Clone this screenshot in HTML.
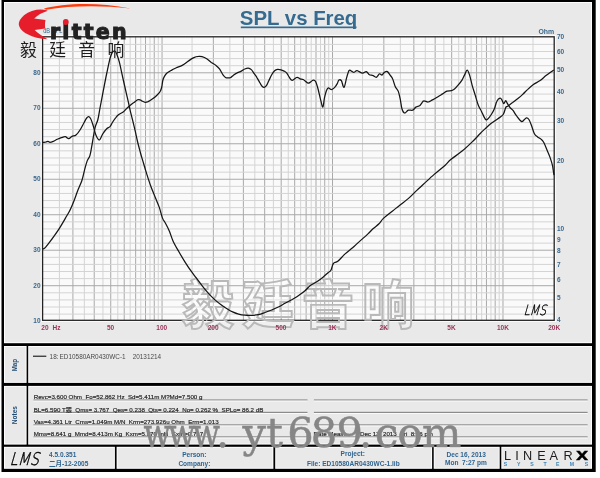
<!DOCTYPE html><html><head><meta charset="utf-8"><style>html,body{margin:0;padding:0;background:#fff;width:600px;height:478px;overflow:hidden}svg{display:block}text{font-family:"Liberation Sans",sans-serif}</style></head><body>
<svg width="600" height="478" viewBox="0 0 600 478">
<rect x="0" y="0" width="600" height="478" fill="#fff"/>
<rect x="1.5" y="-1" width="594.2" height="473.0" fill="#000"/>
<rect x="4" y="2" width="588.00" height="341.20" fill="#fdfdfd"/>
<rect x="5" y="3" width="586.00" height="339.20" fill="#e9e9e9"/>
<rect x="4" y="346.0" width="22.60" height="36.90" fill="#fdfdfd"/>
<rect x="5" y="347.0" width="20.60" height="34.90" fill="#e9e9e9"/>
<rect x="28.2" y="346.0" width="563.80" height="36.90" fill="#fdfdfd"/>
<rect x="29.2" y="347.0" width="561.80" height="34.90" fill="#e9e9e9"/>
<rect x="4" y="385.9" width="22.60" height="58.70" fill="#fdfdfd"/>
<rect x="5" y="386.9" width="20.60" height="56.70" fill="#e9e9e9"/>
<rect x="28.2" y="385.9" width="563.80" height="58.70" fill="#fdfdfd"/>
<rect x="29.2" y="386.9" width="561.80" height="56.70" fill="#e9e9e9"/>
<rect x="4" y="446.8" width="110.90" height="22.00" fill="#fdfdfd"/>
<rect x="5" y="447.8" width="108.90" height="20.00" fill="#e9e9e9"/>
<rect x="116.6" y="446.8" width="156.80" height="22.00" fill="#fdfdfd"/>
<rect x="117.6" y="447.8" width="154.80" height="20.00" fill="#e9e9e9"/>
<rect x="275.2" y="446.8" width="156.90" height="22.00" fill="#fdfdfd"/>
<rect x="276.2" y="447.8" width="154.90" height="20.00" fill="#e9e9e9"/>
<rect x="433.7" y="446.8" width="66.00" height="22.00" fill="#fdfdfd"/>
<rect x="434.7" y="447.8" width="64.00" height="20.00" fill="#e9e9e9"/>
<rect x="501.3" y="446.8" width="90.70" height="22.00" fill="#fdfdfd"/>
<rect x="502.3" y="447.8" width="88.70" height="20.00" fill="#e9e9e9"/>
<rect x="40.7" y="34.9" width="515.40" height="287.10" fill="#fafafa"/>
<line x1="59.42" y1="36.8" x2="59.42" y2="320.3" stroke="#d4d4d4" stroke-width="1"/><line x1="72.92" y1="36.8" x2="72.92" y2="320.3" stroke="#a9a9a9" stroke-width="1"/><line x1="84.33" y1="36.8" x2="84.33" y2="320.3" stroke="#d4d4d4" stroke-width="1"/><line x1="94.22" y1="36.8" x2="94.22" y2="320.3" stroke="#a9a9a9" stroke-width="1"/><line x1="102.94" y1="36.8" x2="102.94" y2="320.3" stroke="#d4d4d4" stroke-width="1"/><line x1="110.74" y1="36.8" x2="110.74" y2="320.3" stroke="#a9a9a9" stroke-width="1"/><line x1="117.79" y1="36.8" x2="117.79" y2="320.3" stroke="#d4d4d4" stroke-width="1"/><line x1="124.23" y1="36.8" x2="124.23" y2="320.3" stroke="#a9a9a9" stroke-width="1"/><line x1="130.16" y1="36.8" x2="130.16" y2="320.3" stroke="#d4d4d4" stroke-width="1"/><line x1="135.65" y1="36.8" x2="135.65" y2="320.3" stroke="#a9a9a9" stroke-width="1"/><line x1="140.75" y1="36.8" x2="140.75" y2="320.3" stroke="#d4d4d4" stroke-width="1"/><line x1="145.53" y1="36.8" x2="145.53" y2="320.3" stroke="#a9a9a9" stroke-width="1"/><line x1="150.02" y1="36.8" x2="150.02" y2="320.3" stroke="#d4d4d4" stroke-width="1"/><line x1="154.25" y1="36.8" x2="154.25" y2="320.3" stroke="#a9a9a9" stroke-width="1"/><line x1="158.25" y1="36.8" x2="158.25" y2="320.3" stroke="#d4d4d4" stroke-width="1"/><line x1="162.05" y1="36.8" x2="162.05" y2="320.3" stroke="#a9a9a9" stroke-width="1"/><line x1="192.07" y1="36.8" x2="192.07" y2="320.3" stroke="#d4d4d4" stroke-width="1"/><line x1="213.37" y1="36.8" x2="213.37" y2="320.3" stroke="#a9a9a9" stroke-width="1"/><line x1="229.89" y1="36.8" x2="229.89" y2="320.3" stroke="#d4d4d4" stroke-width="1"/><line x1="243.38" y1="36.8" x2="243.38" y2="320.3" stroke="#a9a9a9" stroke-width="1"/><line x1="254.80" y1="36.8" x2="254.80" y2="320.3" stroke="#d4d4d4" stroke-width="1"/><line x1="264.68" y1="36.8" x2="264.68" y2="320.3" stroke="#a9a9a9" stroke-width="1"/><line x1="273.40" y1="36.8" x2="273.40" y2="320.3" stroke="#d4d4d4" stroke-width="1"/><line x1="281.20" y1="36.8" x2="281.20" y2="320.3" stroke="#a9a9a9" stroke-width="1"/><line x1="288.26" y1="36.8" x2="288.26" y2="320.3" stroke="#d4d4d4" stroke-width="1"/><line x1="294.70" y1="36.8" x2="294.70" y2="320.3" stroke="#a9a9a9" stroke-width="1"/><line x1="300.63" y1="36.8" x2="300.63" y2="320.3" stroke="#d4d4d4" stroke-width="1"/><line x1="306.11" y1="36.8" x2="306.11" y2="320.3" stroke="#a9a9a9" stroke-width="1"/><line x1="311.22" y1="36.8" x2="311.22" y2="320.3" stroke="#d4d4d4" stroke-width="1"/><line x1="316.00" y1="36.8" x2="316.00" y2="320.3" stroke="#a9a9a9" stroke-width="1"/><line x1="320.49" y1="36.8" x2="320.49" y2="320.3" stroke="#d4d4d4" stroke-width="1"/><line x1="324.72" y1="36.8" x2="324.72" y2="320.3" stroke="#a9a9a9" stroke-width="1"/><line x1="328.72" y1="36.8" x2="328.72" y2="320.3" stroke="#d4d4d4" stroke-width="1"/><line x1="332.52" y1="36.8" x2="332.52" y2="320.3" stroke="#a9a9a9" stroke-width="1"/><line x1="362.54" y1="36.8" x2="362.54" y2="320.3" stroke="#d4d4d4" stroke-width="1"/><line x1="383.83" y1="36.8" x2="383.83" y2="320.3" stroke="#a9a9a9" stroke-width="1"/><line x1="400.35" y1="36.8" x2="400.35" y2="320.3" stroke="#d4d4d4" stroke-width="1"/><line x1="413.85" y1="36.8" x2="413.85" y2="320.3" stroke="#a9a9a9" stroke-width="1"/><line x1="425.26" y1="36.8" x2="425.26" y2="320.3" stroke="#d4d4d4" stroke-width="1"/><line x1="435.15" y1="36.8" x2="435.15" y2="320.3" stroke="#a9a9a9" stroke-width="1"/><line x1="443.87" y1="36.8" x2="443.87" y2="320.3" stroke="#d4d4d4" stroke-width="1"/><line x1="451.67" y1="36.8" x2="451.67" y2="320.3" stroke="#a9a9a9" stroke-width="1"/><line x1="458.72" y1="36.8" x2="458.72" y2="320.3" stroke="#d4d4d4" stroke-width="1"/><line x1="465.17" y1="36.8" x2="465.17" y2="320.3" stroke="#a9a9a9" stroke-width="1"/><line x1="471.09" y1="36.8" x2="471.09" y2="320.3" stroke="#d4d4d4" stroke-width="1"/><line x1="476.58" y1="36.8" x2="476.58" y2="320.3" stroke="#a9a9a9" stroke-width="1"/><line x1="481.69" y1="36.8" x2="481.69" y2="320.3" stroke="#d4d4d4" stroke-width="1"/><line x1="486.46" y1="36.8" x2="486.46" y2="320.3" stroke="#a9a9a9" stroke-width="1"/><line x1="490.95" y1="36.8" x2="490.95" y2="320.3" stroke="#d4d4d4" stroke-width="1"/><line x1="495.18" y1="36.8" x2="495.18" y2="320.3" stroke="#a9a9a9" stroke-width="1"/><line x1="499.19" y1="36.8" x2="499.19" y2="320.3" stroke="#d4d4d4" stroke-width="1"/><line x1="502.98" y1="36.8" x2="502.98" y2="320.3" stroke="#a9a9a9" stroke-width="1"/><line x1="533.00" y1="36.8" x2="533.00" y2="320.3" stroke="#d4d4d4" stroke-width="1"/><line x1="42.6" y1="44.40" x2="554.2" y2="44.40" stroke="#d4d4d4" stroke-width="1"/><line x1="42.6" y1="51.49" x2="554.2" y2="51.49" stroke="#d4d4d4" stroke-width="1"/><line x1="42.6" y1="58.59" x2="554.2" y2="58.59" stroke="#d4d4d4" stroke-width="1"/><line x1="42.6" y1="65.69" x2="554.2" y2="65.69" stroke="#d4d4d4" stroke-width="1"/><line x1="42.6" y1="72.79" x2="554.2" y2="72.79" stroke="#a9a9a9" stroke-width="1"/><line x1="42.6" y1="79.88" x2="554.2" y2="79.88" stroke="#d4d4d4" stroke-width="1"/><line x1="42.6" y1="86.98" x2="554.2" y2="86.98" stroke="#d4d4d4" stroke-width="1"/><line x1="42.6" y1="94.08" x2="554.2" y2="94.08" stroke="#d4d4d4" stroke-width="1"/><line x1="42.6" y1="101.18" x2="554.2" y2="101.18" stroke="#d4d4d4" stroke-width="1"/><line x1="42.6" y1="108.27" x2="554.2" y2="108.27" stroke="#a9a9a9" stroke-width="1"/><line x1="42.6" y1="115.37" x2="554.2" y2="115.37" stroke="#d4d4d4" stroke-width="1"/><line x1="42.6" y1="122.47" x2="554.2" y2="122.47" stroke="#d4d4d4" stroke-width="1"/><line x1="42.6" y1="129.57" x2="554.2" y2="129.57" stroke="#d4d4d4" stroke-width="1"/><line x1="42.6" y1="136.66" x2="554.2" y2="136.66" stroke="#d4d4d4" stroke-width="1"/><line x1="42.6" y1="143.76" x2="554.2" y2="143.76" stroke="#a9a9a9" stroke-width="1"/><line x1="42.6" y1="150.86" x2="554.2" y2="150.86" stroke="#d4d4d4" stroke-width="1"/><line x1="42.6" y1="157.96" x2="554.2" y2="157.96" stroke="#d4d4d4" stroke-width="1"/><line x1="42.6" y1="165.06" x2="554.2" y2="165.06" stroke="#d4d4d4" stroke-width="1"/><line x1="42.6" y1="172.15" x2="554.2" y2="172.15" stroke="#d4d4d4" stroke-width="1"/><line x1="42.6" y1="179.25" x2="554.2" y2="179.25" stroke="#a9a9a9" stroke-width="1"/><line x1="42.6" y1="186.35" x2="554.2" y2="186.35" stroke="#d4d4d4" stroke-width="1"/><line x1="42.6" y1="193.44" x2="554.2" y2="193.44" stroke="#d4d4d4" stroke-width="1"/><line x1="42.6" y1="200.54" x2="554.2" y2="200.54" stroke="#d4d4d4" stroke-width="1"/><line x1="42.6" y1="207.64" x2="554.2" y2="207.64" stroke="#d4d4d4" stroke-width="1"/><line x1="42.6" y1="214.74" x2="554.2" y2="214.74" stroke="#a9a9a9" stroke-width="1"/><line x1="42.6" y1="221.83" x2="554.2" y2="221.83" stroke="#d4d4d4" stroke-width="1"/><line x1="42.6" y1="228.93" x2="554.2" y2="228.93" stroke="#d4d4d4" stroke-width="1"/><line x1="42.6" y1="236.03" x2="554.2" y2="236.03" stroke="#d4d4d4" stroke-width="1"/><line x1="42.6" y1="243.13" x2="554.2" y2="243.13" stroke="#d4d4d4" stroke-width="1"/><line x1="42.6" y1="250.23" x2="554.2" y2="250.23" stroke="#a9a9a9" stroke-width="1"/><line x1="42.6" y1="257.32" x2="554.2" y2="257.32" stroke="#d4d4d4" stroke-width="1"/><line x1="42.6" y1="264.42" x2="554.2" y2="264.42" stroke="#d4d4d4" stroke-width="1"/><line x1="42.6" y1="271.52" x2="554.2" y2="271.52" stroke="#d4d4d4" stroke-width="1"/><line x1="42.6" y1="278.61" x2="554.2" y2="278.61" stroke="#d4d4d4" stroke-width="1"/><line x1="42.6" y1="285.71" x2="554.2" y2="285.71" stroke="#a9a9a9" stroke-width="1"/><line x1="42.6" y1="292.81" x2="554.2" y2="292.81" stroke="#d4d4d4" stroke-width="1"/><line x1="42.6" y1="299.91" x2="554.2" y2="299.91" stroke="#d4d4d4" stroke-width="1"/><line x1="42.6" y1="307.00" x2="554.2" y2="307.00" stroke="#d4d4d4" stroke-width="1"/><line x1="42.6" y1="314.10" x2="554.2" y2="314.10" stroke="#d4d4d4" stroke-width="1"/>
<rect x="42.6" y="36.8" width="511.60" height="283.50" fill="none" stroke="#222" stroke-width="1.3"/>
<text x="182" y="324" font-size="52" font-weight="bold" fill="rgba(255,255,255,0.35)" stroke="#b9b9b9" stroke-width="1.9" letter-spacing="8" style="font-family:'Liberation Sans','Noto Sans CJK SC',sans-serif">毅廷音响</text>
<path d="M42.7,142.4 C43.2,142.3 45.1,142.2 46.0,142.0 C46.9,141.8 47.3,141.2 48.0,141.3 C48.7,141.4 49.1,142.3 50.0,142.3 C50.9,142.3 52.1,141.8 53.3,141.3 C54.5,140.8 56.0,139.9 57.3,139.3 C58.6,138.7 60.0,138.1 61.3,137.7 C62.6,137.3 64.1,136.5 65.3,136.7 C66.5,136.9 67.6,138.8 68.7,138.7 C69.8,138.6 70.8,137.0 72.0,136.4 C73.2,135.8 74.7,136.1 76.0,135.0 C77.3,133.9 78.7,132.1 80.0,130.0 C81.3,128.0 82.9,124.7 84.0,122.7 C85.1,120.7 85.9,119.0 86.7,118.0 C87.5,117.0 88.0,116.6 88.7,116.7 C89.4,116.8 89.9,117.2 90.7,118.7 C91.5,120.2 92.4,123.2 93.3,126.0 C94.2,128.8 95.0,133.0 96.0,135.3 C97.0,137.6 98.2,140.2 99.3,140.0 C100.4,139.8 101.5,135.9 102.7,134.0 C103.9,132.1 105.5,129.9 106.7,128.7 C107.9,127.5 109.0,127.8 110.0,126.7 C111.0,125.6 111.7,123.6 112.7,122.0 C113.7,120.4 115.0,118.5 116.0,117.3 C117.0,116.0 117.6,115.4 118.8,114.5 C120.0,113.6 122.0,112.9 123.2,112.0 C124.5,111.1 125.3,109.9 126.3,108.9 C127.3,107.9 128.2,107.1 129.4,106.1 C130.7,105.0 132.4,103.6 133.8,102.6 C135.2,101.5 136.6,100.3 137.6,99.8 C138.6,99.3 139.3,99.5 140.1,99.8 C140.9,100.0 141.8,100.9 142.6,101.3 C143.4,101.7 144.2,102.2 145.1,102.3 C146.0,102.3 146.9,102.2 148.2,101.6 C149.4,101.0 151.2,99.8 152.6,98.8 C154.0,97.8 155.2,96.9 156.4,95.7 C157.6,94.5 159.1,93.2 160.0,91.7 C160.9,90.2 161.3,89.0 161.8,87.0 C162.2,85.0 162.4,81.8 162.9,80.0 C163.4,78.2 164.0,77.1 164.7,75.9 C165.4,74.7 165.8,74.0 167.0,73.0 C168.2,72.0 170.1,71.0 171.7,70.1 C173.2,69.2 174.6,68.6 176.3,67.8 C178.1,67.0 180.2,66.5 182.2,65.4 C184.1,64.3 186.1,62.6 188.0,61.3 C189.9,60.0 192.1,58.4 193.8,57.6 C195.6,56.8 197.1,56.5 198.5,56.4 C199.9,56.2 200.6,56.3 202.0,56.7 C203.4,57.1 205.1,57.8 206.7,58.8 C208.2,59.8 209.8,61.4 211.3,62.5 C212.9,63.6 214.6,64.3 216.0,65.4 C217.4,66.5 218.3,67.3 219.5,68.9 C220.7,70.5 221.9,73.3 223.0,74.8 C224.1,76.3 225.1,77.2 225.9,77.7 C226.7,78.2 227.3,77.9 228.0,77.9 C228.7,77.9 229.4,78.2 230.3,77.8 C231.2,77.4 232.1,76.2 233.2,75.4 C234.3,74.6 235.3,73.8 236.7,73.1 C238.0,72.4 240.0,71.8 241.3,71.1 C242.7,70.4 243.6,69.5 244.8,69.0 C246.0,68.5 247.2,68.1 248.3,68.2 C249.4,68.3 250.3,68.7 251.3,69.6 C252.3,70.5 253.2,72.3 254.2,73.7 C255.2,75.1 256.1,76.2 257.1,77.8 C258.1,79.3 259.1,81.5 260.0,83.0 C260.9,84.5 261.6,85.8 262.3,86.5 C263.0,87.2 263.4,87.6 264.1,87.4 C264.8,87.2 265.6,86.7 266.4,85.6 C267.2,84.5 267.9,82.5 268.8,80.7 C269.7,78.9 270.7,76.5 271.7,74.8 C272.7,73.1 273.6,71.7 274.6,70.8 C275.6,69.9 276.4,69.6 277.5,69.4 C278.6,69.2 279.8,69.5 281.0,69.8 C282.2,70.1 283.5,70.8 284.5,71.3 C285.5,71.8 286.0,72.1 286.8,73.1 C287.6,74.1 288.3,76.0 289.2,77.2 C290.1,78.4 291.0,80.3 292.3,80.3 C293.6,80.3 295.6,77.5 296.9,77.3 C298.2,77.0 298.9,78.4 300.0,78.8 C301.1,79.2 301.9,78.8 303.2,79.5 C304.5,80.2 306.5,82.4 307.6,82.9 C308.8,83.4 309.2,82.9 310.1,82.4 C311.0,81.9 312.3,80.2 313.2,80.1 C314.1,80.0 314.9,80.1 315.7,81.7 C316.5,83.3 317.4,86.4 318.2,89.5 C319.0,92.6 319.9,97.3 320.7,100.2 C321.5,103.1 322.3,107.5 322.9,107.1 C323.5,106.7 323.9,100.4 324.5,97.7 C325.1,95.0 325.8,92.4 326.4,90.8 C327.0,89.2 327.5,88.1 328.3,87.9 C329.1,87.7 330.4,89.5 331.4,89.5 C332.4,89.5 333.6,88.5 334.5,87.6 C335.4,86.7 336.4,85.2 337.1,83.9 C337.8,82.7 338.2,80.6 338.9,80.1 C339.6,79.6 340.5,79.5 341.4,80.7 C342.2,81.9 343.1,87.8 344.0,87.4 C344.9,87.0 345.7,81.0 346.5,78.2 C347.3,75.4 348.2,71.9 349.0,70.7 C349.8,69.5 350.7,70.8 351.5,71.1 C352.3,71.4 353.1,72.4 354.0,72.3 C354.9,72.2 355.7,70.5 357.1,70.7 C358.5,70.9 361.0,73.1 362.5,73.2 C364.0,73.3 365.2,71.3 366.3,71.6 C367.4,71.9 368.3,74.2 369.4,74.8 C370.4,75.4 371.5,74.9 372.6,75.3 C373.8,75.7 375.2,77.5 376.3,77.3 C377.4,77.0 378.6,74.2 379.5,73.8 C380.4,73.4 381.2,75.3 382.0,75.1 C382.8,74.8 383.6,72.9 384.5,72.3 C385.4,71.7 386.5,71.1 387.4,71.6 C388.3,72.1 389.2,73.9 390.1,75.1 C391.0,76.3 391.8,76.9 392.6,78.8 C393.5,80.7 394.2,84.3 395.2,86.4 C396.1,88.5 397.5,89.3 398.3,91.4 C399.1,93.5 399.6,96.0 400.2,98.9 C400.8,101.8 401.3,106.7 402.0,109.0 C402.7,111.3 403.6,112.8 404.6,113.0 C405.7,113.2 407.0,110.7 408.3,110.2 C409.6,109.7 411.4,110.7 412.7,110.2 C414.0,109.7 414.8,107.8 415.9,107.1 C417.0,106.4 418.7,106.4 419.6,105.8 C420.5,105.2 420.8,104.3 421.5,103.5 C422.2,102.7 422.7,101.0 423.8,100.8 C424.9,100.5 426.8,102.2 428.2,102.0 C429.6,101.8 430.9,100.7 432.5,99.9 C434.1,99.1 435.9,98.0 437.6,97.0 C439.3,96.0 441.0,94.9 442.6,93.9 C444.2,92.9 445.5,91.6 447.0,91.1 C448.5,90.6 450.1,91.0 451.4,90.7 C452.6,90.4 453.5,89.9 454.5,89.1 C455.5,88.3 456.4,87.2 457.6,85.7 C458.9,84.2 460.9,81.9 462.0,80.1 C463.1,78.3 463.6,76.8 464.5,75.1 C465.4,73.4 466.2,70.0 467.1,70.0 C468.0,70.0 468.8,72.6 469.6,75.1 C470.4,77.6 471.2,81.8 472.1,85.1 C473.0,88.4 474.2,91.8 475.2,95.1 C476.2,98.4 477.2,102.5 478.3,105.2 C479.4,107.9 480.4,109.1 481.5,111.4 C482.6,113.7 484.1,117.7 485.2,119.0 C486.2,120.3 486.8,119.8 487.8,119.0 C488.8,118.2 490.2,116.2 491.3,114.5 C492.4,112.8 493.5,111.0 494.4,108.8 C495.3,106.6 495.9,103.1 496.9,101.3 C497.8,99.5 499.2,98.4 500.1,98.2 C501.0,98.0 501.4,99.2 502.0,100.1 C502.6,101.0 503.2,103.5 503.8,103.6 C504.4,103.7 505.1,100.7 505.7,100.7 C506.3,100.7 506.9,102.7 507.6,103.8 C508.3,104.9 509.2,106.4 510.1,107.6 C511.0,108.8 512.2,109.3 513.2,110.7 C514.2,112.1 515.0,113.9 516.4,115.7 C517.8,117.5 520.1,120.7 521.4,121.4 C522.6,122.1 523.1,120.7 523.9,120.1 C524.7,119.5 525.6,118.0 526.4,117.9 C527.2,117.8 528.1,118.3 528.9,119.5 C529.7,120.7 530.5,122.8 531.4,125.2 C532.3,127.6 533.4,131.9 534.4,133.8 C535.4,135.8 536.5,136.0 537.6,136.9 C538.8,137.8 540.3,138.5 541.3,139.4 C542.3,140.3 542.8,140.7 543.8,142.5 C544.8,144.3 546.0,147.6 547.0,150.1 C548.0,152.6 549.2,155.1 550.1,157.6 C551.0,160.1 551.8,162.6 552.4,165.1 C553.0,167.6 553.3,171.0 553.6,172.7 C553.9,174.4 554.0,174.8 554.1,175.2" fill="none" stroke="#151515" stroke-width="1.25" stroke-linejoin="round"/>
<path d="M42.9,249.0 C43.4,248.7 44.3,248.7 45.7,247.1 C47.1,245.5 49.4,242.6 51.5,239.7 C53.6,236.8 56.1,233.4 58.4,229.9 C60.7,226.4 63.5,221.5 65.3,218.4 C67.1,215.3 68.1,213.7 69.3,211.5 C70.5,209.3 71.3,207.2 72.2,205.2 C73.1,203.2 73.6,201.8 74.5,199.5 C75.4,197.2 76.3,194.4 77.5,191.2 C78.7,188.0 80.7,184.1 81.9,180.5 C83.1,176.9 83.7,173.1 84.6,169.8 C85.5,166.5 86.3,163.3 87.2,160.9 C88.1,158.5 89.2,158.0 89.9,155.6 C90.7,153.2 91.1,150.0 91.7,146.7 C92.3,143.4 92.9,139.3 93.5,136.0 C94.1,132.7 94.5,129.8 95.2,127.1 C95.9,124.3 97.1,122.7 97.9,119.5 C98.7,116.3 99.1,112.9 100.0,108.0 C100.9,103.1 102.3,96.0 103.4,90.2 C104.5,84.5 105.7,78.2 106.7,73.5 C107.7,68.8 108.4,65.1 109.2,61.8 C110.0,58.4 110.9,55.2 111.8,53.4 C112.7,51.6 114.0,50.9 114.8,51.0 C115.6,51.1 116.0,52.4 116.8,54.2 C117.5,56.0 118.3,58.0 119.3,61.8 C120.3,65.6 121.5,71.8 122.6,76.8 C123.7,81.8 125.1,87.8 126.0,91.9 C126.9,96.0 127.5,98.3 128.2,101.3 C128.9,104.3 129.4,106.9 130.1,110.1 C130.8,113.2 131.8,116.9 132.6,120.2 C133.4,123.5 134.2,126.7 135.0,130.2 C135.8,133.7 136.5,137.2 137.4,141.0 C138.3,144.8 139.5,149.2 140.5,153.0 C141.5,156.8 142.6,160.0 143.6,163.5 C144.6,167.0 145.5,170.1 146.7,173.9 C147.9,177.7 149.5,182.7 150.9,186.5 C152.3,190.3 153.7,193.5 155.1,197.0 C156.5,200.5 158.1,203.9 159.3,207.4 C160.5,210.9 161.4,215.2 162.4,217.9 C163.4,220.6 164.4,221.3 165.6,223.5 C166.8,225.7 168.1,228.1 169.3,231.0 C170.5,233.9 171.4,237.4 173.0,240.9 C174.6,244.4 176.9,248.3 178.9,251.8 C180.9,255.3 182.9,258.7 184.9,261.8 C186.9,264.9 188.8,267.9 190.8,270.7 C192.8,273.5 194.8,276.0 196.8,278.7 C198.8,281.4 200.8,284.1 202.8,286.6 C204.8,289.1 206.7,291.4 208.7,293.6 C210.7,295.8 212.7,297.8 214.7,299.6 C216.7,301.4 218.7,303.0 220.7,304.5 C222.7,306.0 224.6,307.3 226.6,308.5 C228.6,309.7 230.6,311.0 232.6,311.9 C234.6,312.8 236.5,313.6 238.6,314.1 C240.7,314.7 242.8,315.0 245.0,315.2 C247.2,315.4 249.5,315.4 251.7,315.3 C253.9,315.2 256.1,315.2 258.3,314.7 C260.5,314.2 262.8,313.3 265.0,312.5 C267.2,311.7 269.5,310.9 271.7,310.0 C273.9,309.1 276.1,308.1 278.3,307.0 C280.5,305.9 282.8,304.5 285.0,303.3 C287.2,302.1 289.5,300.9 291.7,299.7 C293.9,298.4 296.1,297.3 298.3,295.8 C300.5,294.3 303.1,292.5 305.0,290.8 C306.9,289.1 308.6,287.0 310.0,285.8 C311.4,284.6 311.9,284.5 313.3,283.7 C314.7,282.9 316.6,281.9 318.3,280.8 C320.0,279.7 321.6,278.4 323.3,277.0 C325.0,275.6 327.0,273.6 328.3,272.5 C329.6,271.4 330.0,271.7 330.9,270.2 C331.8,268.7 332.2,265.0 333.4,263.5 C334.5,262.0 335.9,262.9 337.8,261.3 C339.8,259.7 342.6,256.1 345.1,253.9 C347.6,251.7 350.4,249.7 352.6,247.8 C354.8,245.9 355.7,244.9 358.2,242.6 C360.7,240.3 365.2,236.4 367.7,234.1 C370.2,231.8 371.4,230.2 373.3,228.5 C375.2,226.8 377.3,225.5 379.0,223.8 C380.7,222.1 381.1,220.6 383.4,218.4 C385.7,216.2 389.8,213.1 392.6,210.9 C395.4,208.7 397.5,207.1 400.1,205.0 C402.8,202.9 405.7,200.8 408.5,198.4 C411.3,196.0 414.4,192.6 416.8,190.4 C419.2,188.2 419.8,187.6 422.6,185.0 C425.5,182.4 430.1,177.9 433.9,174.6 C437.7,171.3 442.4,167.7 445.2,165.2 C448.0,162.7 448.0,161.8 450.8,159.5 C453.6,157.2 458.3,154.2 462.1,151.1 C465.9,148.0 470.4,143.6 473.4,140.7 C476.4,137.8 478.1,135.7 480.0,133.7 C481.9,131.7 483.1,130.6 485.0,128.9 C486.9,127.2 489.2,125.0 491.3,123.3 C493.4,121.6 495.6,120.4 497.6,118.9 C499.6,117.4 501.9,116.4 503.2,114.5 C504.5,112.6 505.0,109.0 505.7,107.6 C506.4,106.2 506.5,107.1 507.6,106.3 C508.8,105.5 510.9,103.8 512.6,102.6 C514.3,101.3 515.9,100.2 517.6,98.8 C519.3,97.4 521.1,95.9 522.7,94.4 C524.4,92.9 525.7,91.2 527.5,89.6 C529.3,87.9 531.4,86.0 533.4,84.5 C535.4,83.0 537.6,82.3 539.7,80.8 C541.8,79.3 544.2,77.0 546.0,75.6 C547.8,74.2 548.9,73.5 550.2,72.5 C551.5,71.5 553.2,70.3 553.8,69.9" fill="none" stroke="#151515" stroke-width="1.25" stroke-linejoin="round"/>
<text x="40.6" y="323.0" font-size="6.5" font-weight="bold" fill="#3a678b" text-anchor="end">10</text><text x="40.6" y="287.6" font-size="6.5" font-weight="bold" fill="#3a678b" text-anchor="end">20</text><text x="40.6" y="252.1" font-size="6.5" font-weight="bold" fill="#3a678b" text-anchor="end">30</text><text x="40.6" y="216.7" font-size="6.5" font-weight="bold" fill="#3a678b" text-anchor="end">40</text><text x="40.6" y="181.2" font-size="6.5" font-weight="bold" fill="#3a678b" text-anchor="end">50</text><text x="40.6" y="145.8" font-size="6.5" font-weight="bold" fill="#3a678b" text-anchor="end">60</text><text x="40.6" y="110.4" font-size="6.5" font-weight="bold" fill="#3a678b" text-anchor="end">70</text><text x="40.6" y="74.9" font-size="6.5" font-weight="bold" fill="#3a678b" text-anchor="end">80</text><text x="557" y="322.1" font-size="6.5" font-weight="bold" fill="#3a678b">4</text><text x="557" y="300.0" font-size="6.5" font-weight="bold" fill="#3a678b">5</text><text x="557" y="281.9" font-size="6.5" font-weight="bold" fill="#3a678b">6</text><text x="557" y="266.7" font-size="6.5" font-weight="bold" fill="#3a678b">7</text><text x="557" y="253.4" font-size="6.5" font-weight="bold" fill="#3a678b">8</text><text x="557" y="241.8" font-size="6.5" font-weight="bold" fill="#3a678b">9</text><text x="557" y="231.3" font-size="6.5" font-weight="bold" fill="#3a678b">10</text><text x="557" y="162.7" font-size="6.5" font-weight="bold" fill="#3a678b">20</text><text x="557" y="122.5" font-size="6.5" font-weight="bold" fill="#3a678b">30</text><text x="557" y="94.0" font-size="6.5" font-weight="bold" fill="#3a678b">40</text><text x="557" y="71.9" font-size="6.5" font-weight="bold" fill="#3a678b">50</text><text x="557" y="53.9" font-size="6.5" font-weight="bold" fill="#3a678b">60</text><text x="557" y="38.6" font-size="6.5" font-weight="bold" fill="#3a678b">70</text><text x="554.2" y="33.9" font-size="6.9" font-weight="bold" fill="#3a678b" text-anchor="end">Ohm</text><text x="43.2" y="33.3" font-size="6.3" fill="#3a678b" textLength="19.2" lengthAdjust="spacingAndGlyphs">dB SPL</text><text x="110.5" y="329.6" font-size="6.5" font-weight="bold" fill="#9a3358" text-anchor="middle">50</text><text x="161.8" y="329.6" font-size="6.5" font-weight="bold" fill="#9a3358" text-anchor="middle">100</text><text x="213.1" y="329.6" font-size="6.5" font-weight="bold" fill="#9a3358" text-anchor="middle">200</text><text x="281.0" y="329.6" font-size="6.5" font-weight="bold" fill="#9a3358" text-anchor="middle">500</text><text x="332.3" y="329.6" font-size="6.5" font-weight="bold" fill="#9a3358" text-anchor="middle">1K</text><text x="383.7" y="329.6" font-size="6.5" font-weight="bold" fill="#9a3358" text-anchor="middle">2K</text><text x="451.5" y="329.6" font-size="6.5" font-weight="bold" fill="#9a3358" text-anchor="middle">5K</text><text x="502.9" y="329.6" font-size="6.5" font-weight="bold" fill="#9a3358" text-anchor="middle">10K</text><text x="554.2" y="329.6" font-size="6.5" font-weight="bold" fill="#9a3358" text-anchor="middle">20K</text><text x="41.3" y="329.6" font-size="6.5" font-weight="bold" fill="#9a3358">20</text><text x="52.5" y="329.6" font-size="6.5" font-weight="bold" fill="#9a3358">Hz</text>
<text x="298.6" y="25.3" font-size="20.4" font-weight="bold" fill="#356b90" text-anchor="middle">SPL vs Freq</text>
<rect x="240.8" y="26.5" width="115.7" height="1.7" fill="#356b90"/>
<path d="M47.4,10.6 C41,8.4 30.5,9.8 24,15.2 C20.3,18.6 18.6,21.8 18.8,24.2 C19,27.5 22,31.5 27.6,34.3 C33,37 40,39 47.6,39.3 C42,36 37.5,33 34.7,30.1 L45.2,28.6 C44.8,25.5 44.9,22.5 45.5,20 L34.2,18.4 C37.5,15 42,12.6 47.2,10.9 Z" fill="#e61e2b"/>
<path d="M44,8.4 C62,3.8 95,1.2 130.5,8.5 C100,5.2 70,5.6 46,9.8 Z" fill="#ff3b0a"/>
<text x="49.9" y="38.5" font-size="20.5" font-weight="bold" fill="#222" stroke="#222" stroke-width="1.1" letter-spacing="2.3" style="font-family:'DejaVu Sans',sans-serif">ritten</text>
<circle cx="65.8" cy="22" r="2.9" fill="#e61e2b"/>
<text x="20" y="56.2" font-size="16.8" fill="#1e1e1e" letter-spacing="12.4" style="font-family:'Liberation Sans','Noto Sans CJK SC',sans-serif">毅廷音响</text>
<rect x="33" y="355.6" width="13.3" height="1.3" fill="#333"/>
<text x="49.6" y="358.5" font-size="6.4" fill="#4a4a4a">18:</text><text x="59.6" y="358.5" font-size="6.4" fill="#4a4a4a">ED10580AR0430WC-1</text><text x="132.7" y="358.5" font-size="6.4" fill="#4a4a4a">20131214</text>
<text transform="translate(17.3,365.1) rotate(-90)" font-size="6.9" font-weight="bold" fill="#1f4a72" text-anchor="middle" textLength="12.4" lengthAdjust="spacingAndGlyphs">Map</text>
<text transform="translate(17.3,415.1) rotate(-90)" font-size="6.9" font-weight="bold" fill="#1f4a72" text-anchor="middle" textLength="18.2" lengthAdjust="spacingAndGlyphs">Notes</text>
<rect x="33.5" y="399.4" width="274" height="1.2" fill="#8c8c8c"/><rect x="33.5" y="400.6" width="274" height="1" fill="#fafafa"/>
<rect x="313.9" y="399.4" width="273.7" height="1.2" fill="#8c8c8c"/><rect x="313.9" y="400.6" width="273.7" height="1" fill="#fafafa"/>
<rect x="33.5" y="411.8" width="274" height="1.2" fill="#8c8c8c"/><rect x="33.5" y="413.0" width="274" height="1" fill="#fafafa"/>
<rect x="313.9" y="411.8" width="273.7" height="1.2" fill="#8c8c8c"/><rect x="313.9" y="413.0" width="273.7" height="1" fill="#fafafa"/>
<rect x="33.5" y="424.3" width="274" height="1.2" fill="#8c8c8c"/><rect x="33.5" y="425.5" width="274" height="1" fill="#fafafa"/>
<rect x="313.9" y="424.3" width="273.7" height="1.2" fill="#8c8c8c"/><rect x="313.9" y="425.5" width="273.7" height="1" fill="#fafafa"/>
<rect x="33.5" y="436.3" width="274" height="1.2" fill="#8c8c8c"/><rect x="33.5" y="437.5" width="274" height="1" fill="#fafafa"/>
<rect x="313.9" y="436.3" width="273.7" height="1.2" fill="#8c8c8c"/><rect x="313.9" y="437.5" width="273.7" height="1" fill="#fafafa"/>
<text x="33.7" y="399.4" font-size="6.2" fill="#262626" stroke="#262626" stroke-width="0.18" xml:space="preserve" style="font-family:'Liberation Sans','Noto Sans CJK SC',sans-serif">Revc=3.600 Ohm  Fo=52.862 Hz  Sd=5.411m M?Md=7.500 g</text>
<text x="33.7" y="411.8" font-size="6.2" fill="#262626" stroke="#262626" stroke-width="0.18" xml:space="preserve" style="font-family:'Liberation Sans','Noto Sans CJK SC',sans-serif">BL=6.590 T瞾  Qms= 3.767  Qes= 0.238  Qts= 0.224  No= 0.262 %  SPLo= 86.2 dB</text>
<text x="33.7" y="424.3" font-size="6.2" fill="#262626" stroke="#262626" stroke-width="0.18" xml:space="preserve" style="font-family:'Liberation Sans','Noto Sans CJK SC',sans-serif">Vas=4.361 Ltr  Cms=1.049m M/N  Krm=273.926u Ohm  Erm=1.013</text>
<text x="33.7" y="436.3" font-size="6.2" fill="#262626" stroke="#262626" stroke-width="0.18" xml:space="preserve" style="font-family:'Liberation Sans','Noto Sans CJK SC',sans-serif">Mms=8.641 g  Mmd=8.413m Kg  Kxm=5.970 mH  Exm=0.717</text>
<text x="313.5" y="436.3" font-size="6.2" fill="#262626" stroke="#262626" stroke-width="0.18">Date Meas.:</text><text x="360" y="436.3" font-size="6.2" fill="#262626" stroke="#262626" stroke-width="0.18" xml:space="preserve" textLength="73" lengthAdjust="spacing">Dec 13, 2013  Fri  8:06 pm</text>
<text x="49" y="456.6" font-size="6.55" font-weight="bold" fill="#2f6490">4.5.0.351</text>
<text x="49" y="466.1" font-size="6.55" font-weight="bold" fill="#2f6490" style="font-family:'Liberation Sans','Noto Sans CJK SC',sans-serif">二月-12-2005</text>
<text x="206.5" y="456.6" font-size="6.55" font-weight="bold" fill="#2f6490" text-anchor="end">Person:</text>
<text x="210.4" y="466.1" font-size="6.55" font-weight="bold" fill="#2f6490" text-anchor="end">Company:</text>
<text x="352.8" y="456.3" font-size="6.55" font-weight="bold" fill="#2f6490" text-anchor="middle">Project:</text>
<text x="353.3" y="465.6" font-size="6.55" font-weight="bold" fill="#2f6490" text-anchor="middle">File: ED10580AR0430WC-1.lib</text>
<text x="466.2" y="456.7" font-size="6.55" font-weight="bold" fill="#2f6490" text-anchor="middle">Dec 16, 2013</text>
<text x="465.9" y="465.4" font-size="6.55" font-weight="bold" fill="#2f6490" text-anchor="middle" xml:space="preserve">Mon  7:27 pm</text>
<text x="507.5 516.9 527.5 541.6 553.7 568.2" y="459.8" font-size="12.7" fill="#1c1c1c" text-anchor="middle">LINEAR</text>
<text transform="translate(582,459.8) scale(1.28,1)" font-size="12.4" font-weight="bold" fill="#000" stroke="#000" stroke-width="0.35" text-anchor="middle" style="font-family:'DejaVu Sans',sans-serif">X</text>
<text x="505.6 518.7 531.9 545 557.7 571.8 586.5" y="466.4" font-size="5.2" font-weight="bold" fill="#3f84b4" text-anchor="middle">SYSTEMS</text>
<text transform="translate(9.6,464.8) skewX(-16)" font-size="17.5" fill="#000" stroke="#000" stroke-width="0.45" textLength="29" lengthAdjust="spacingAndGlyphs" style="font-family:'DejaVu Sans',sans-serif;font-weight:200">LMS</text>
<text transform="translate(523.4,314.9) skewX(-16)" font-size="14" fill="#000" stroke="#000" stroke-width="0.35" textLength="22.5" lengthAdjust="spacingAndGlyphs" style="font-family:'DejaVu Sans',sans-serif;font-weight:200">LMS</text>
<text transform="translate(143.6,447) scale(0.775,1)" font-size="41.5" fill="#868686" stroke="#868686" stroke-width="0.5" style="font-family:'DejaVu Serif',serif" letter-spacing="-4">www</text>
<text x="216.1 242.6 266.3 287.2 310.7 336.4 359.1 374.9 397.5 422.1" y="447" font-size="41.5" fill="#868686" stroke="#868686" stroke-width="0.5" style="font-family:'DejaVu Serif',serif">.yt689.com</text>
</svg></body></html>
